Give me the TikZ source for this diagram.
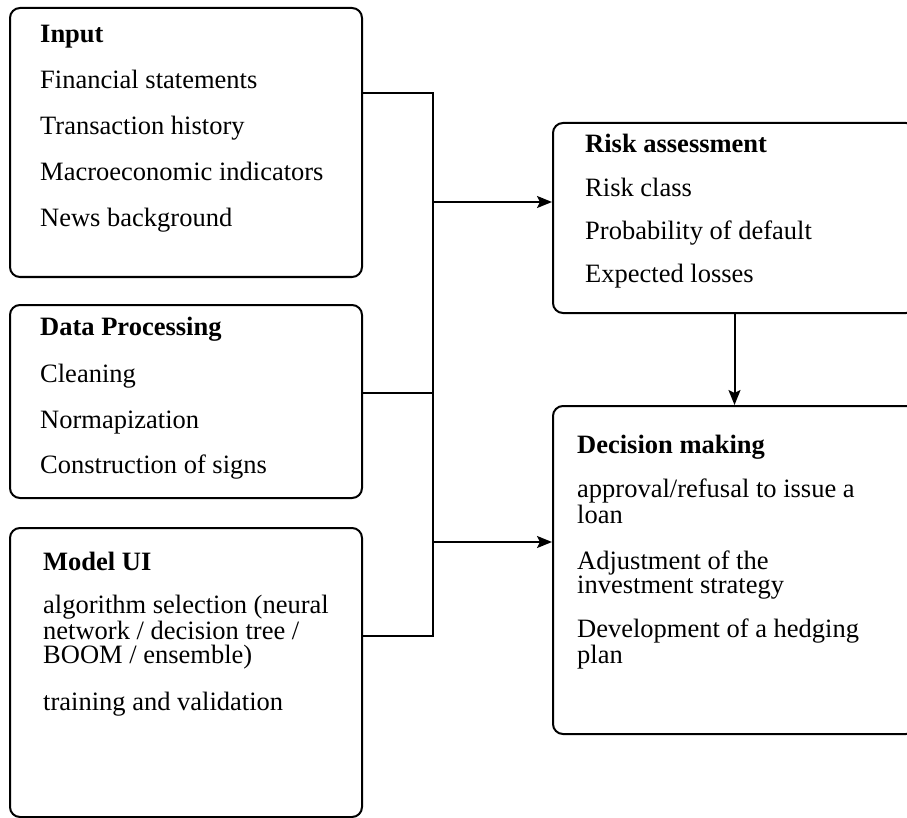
\documentclass[tikz,border=0pt]{standalone}
\usepackage{fontspec}
\setmainfont{Liberation Serif}
\usetikzlibrary{positioning,arrows.meta}
\newcommand\diagfont{\fontsize{26.5}{24}\selectfont}
\tikzset{
    %Define standard arrow tip
    >={Stealth[length=15pt,width=12pt,inset=3pt]},
    %Define style for boxes
    stage/.style={
           rectangle, draw, line width=2pt, rounded corners=10pt,
           inner sep=0pt, anchor=north west},
    % Define text styles
    head/.style={
           anchor=base west, inner sep=0pt, font=\diagfont\bfseries},
    item/.style={
           anchor=base west, inner sep=0pt, align=left},
    % Define line style
    pil/.style={
           line width=2pt}
}
\begin{document}
\begin{tikzpicture}[x=1pt, y=-1pt, font=\diagfont, node distance=0pt]
	\useasboundingbox (0,0) rectangle (907,818);

	% Input
	\node[stage, minimum width=352pt, minimum height=269pt](input) at (9,7){};
	\node[head](intitle) at (40,43){Input};
	\node[item, below=46pt of intitle.base west, anchor=base west](infin){Financial statements};
	\node[item, below=46pt of infin.base west, anchor=base west](intrans){Transaction history};
	\node[item, below=46pt of intrans.base west, anchor=base west](inmacro){Macroeconomic indicators};
	\node[item, below=46pt of inmacro.base west, anchor=base west](innews){News background};

	% Data processing
	\node[stage, minimum width=352pt, minimum height=193pt](data) at (9,304){};
	\node[head](datatitle) at (40,335){Data Processing};
	\node[item, below=47pt of datatitle.base west, anchor=base west](dataclean){Cleaning};
	\node[item, below=46pt of dataclean.base west, anchor=base west](datanorm){Normapization};
	\node[item, below=45pt of datanorm.base west, anchor=base west](datasigns){Construction of signs};

	% Model (base of a wrapped item is its last line)
	\node[stage, minimum width=352pt, minimum height=289pt](model) at (9,527){};
	\node[head](modeltitle) at (43,570){Model UI};
	\node[item, below=93pt of modeltitle.base west, anchor=base west](modelalgo){algorithm selection (neural\\network / decision tree /\\BOOM / ensemble)};
	\node[item, below=47pt of modelalgo.base west, anchor=base west](modeltrain){training and validation};

	% Risk assessment
	\node[stage, minimum width=363pt, minimum height=190pt](risk) at (552,122){};
	\node[head](risktitle) at (585,153){Risk assessment};
	\node[item, below=44pt of risktitle.base west, anchor=base west](riskclass){Risk class};
	\node[item, below=43pt of riskclass.base west, anchor=base west](riskpd){Probability of default};
	\node[item, below=43pt of riskpd.base west, anchor=base west](riskloss){Expected losses};

	% Decision making
	\node[stage, minimum width=363pt, minimum height=328pt](decision) at (552,405){};
	\node[head](dectitle) at (577,453){Decision making};
	\node[item, below=70pt of dectitle.base west, anchor=base west](decloan){approval/refusal to issue a\\loan};
	\node[item, below=70pt of decloan.base west, anchor=base west](decinvest){Adjustment of the\\investment strategy};
	\node[item, below=70pt of decinvest.base west, anchor=base west](dechedge){Development of a hedging\\plan};

	% connectors
	\coordinate (jtop) at (433,93);
	\coordinate (jmid) at (433,393);
	\coordinate (jbot) at (433,636);
	\coordinate (jrisk) at (433,202);
	\coordinate (jdec) at (433,542);

	\draw[pil] (input.east |- jtop) -- (jtop) -- (jbot) -- (model.east |- jbot);
	\draw[pil] (data.east |- jmid) -- (jmid);
	\draw[pil,->] (jrisk) -- (risk.west |- jrisk);
	\draw[pil,->] (jdec) -- (decision.west |- jdec);
	\draw[pil,->] (risk.south) -- (decision.north);

\end{tikzpicture}
\end{document}
